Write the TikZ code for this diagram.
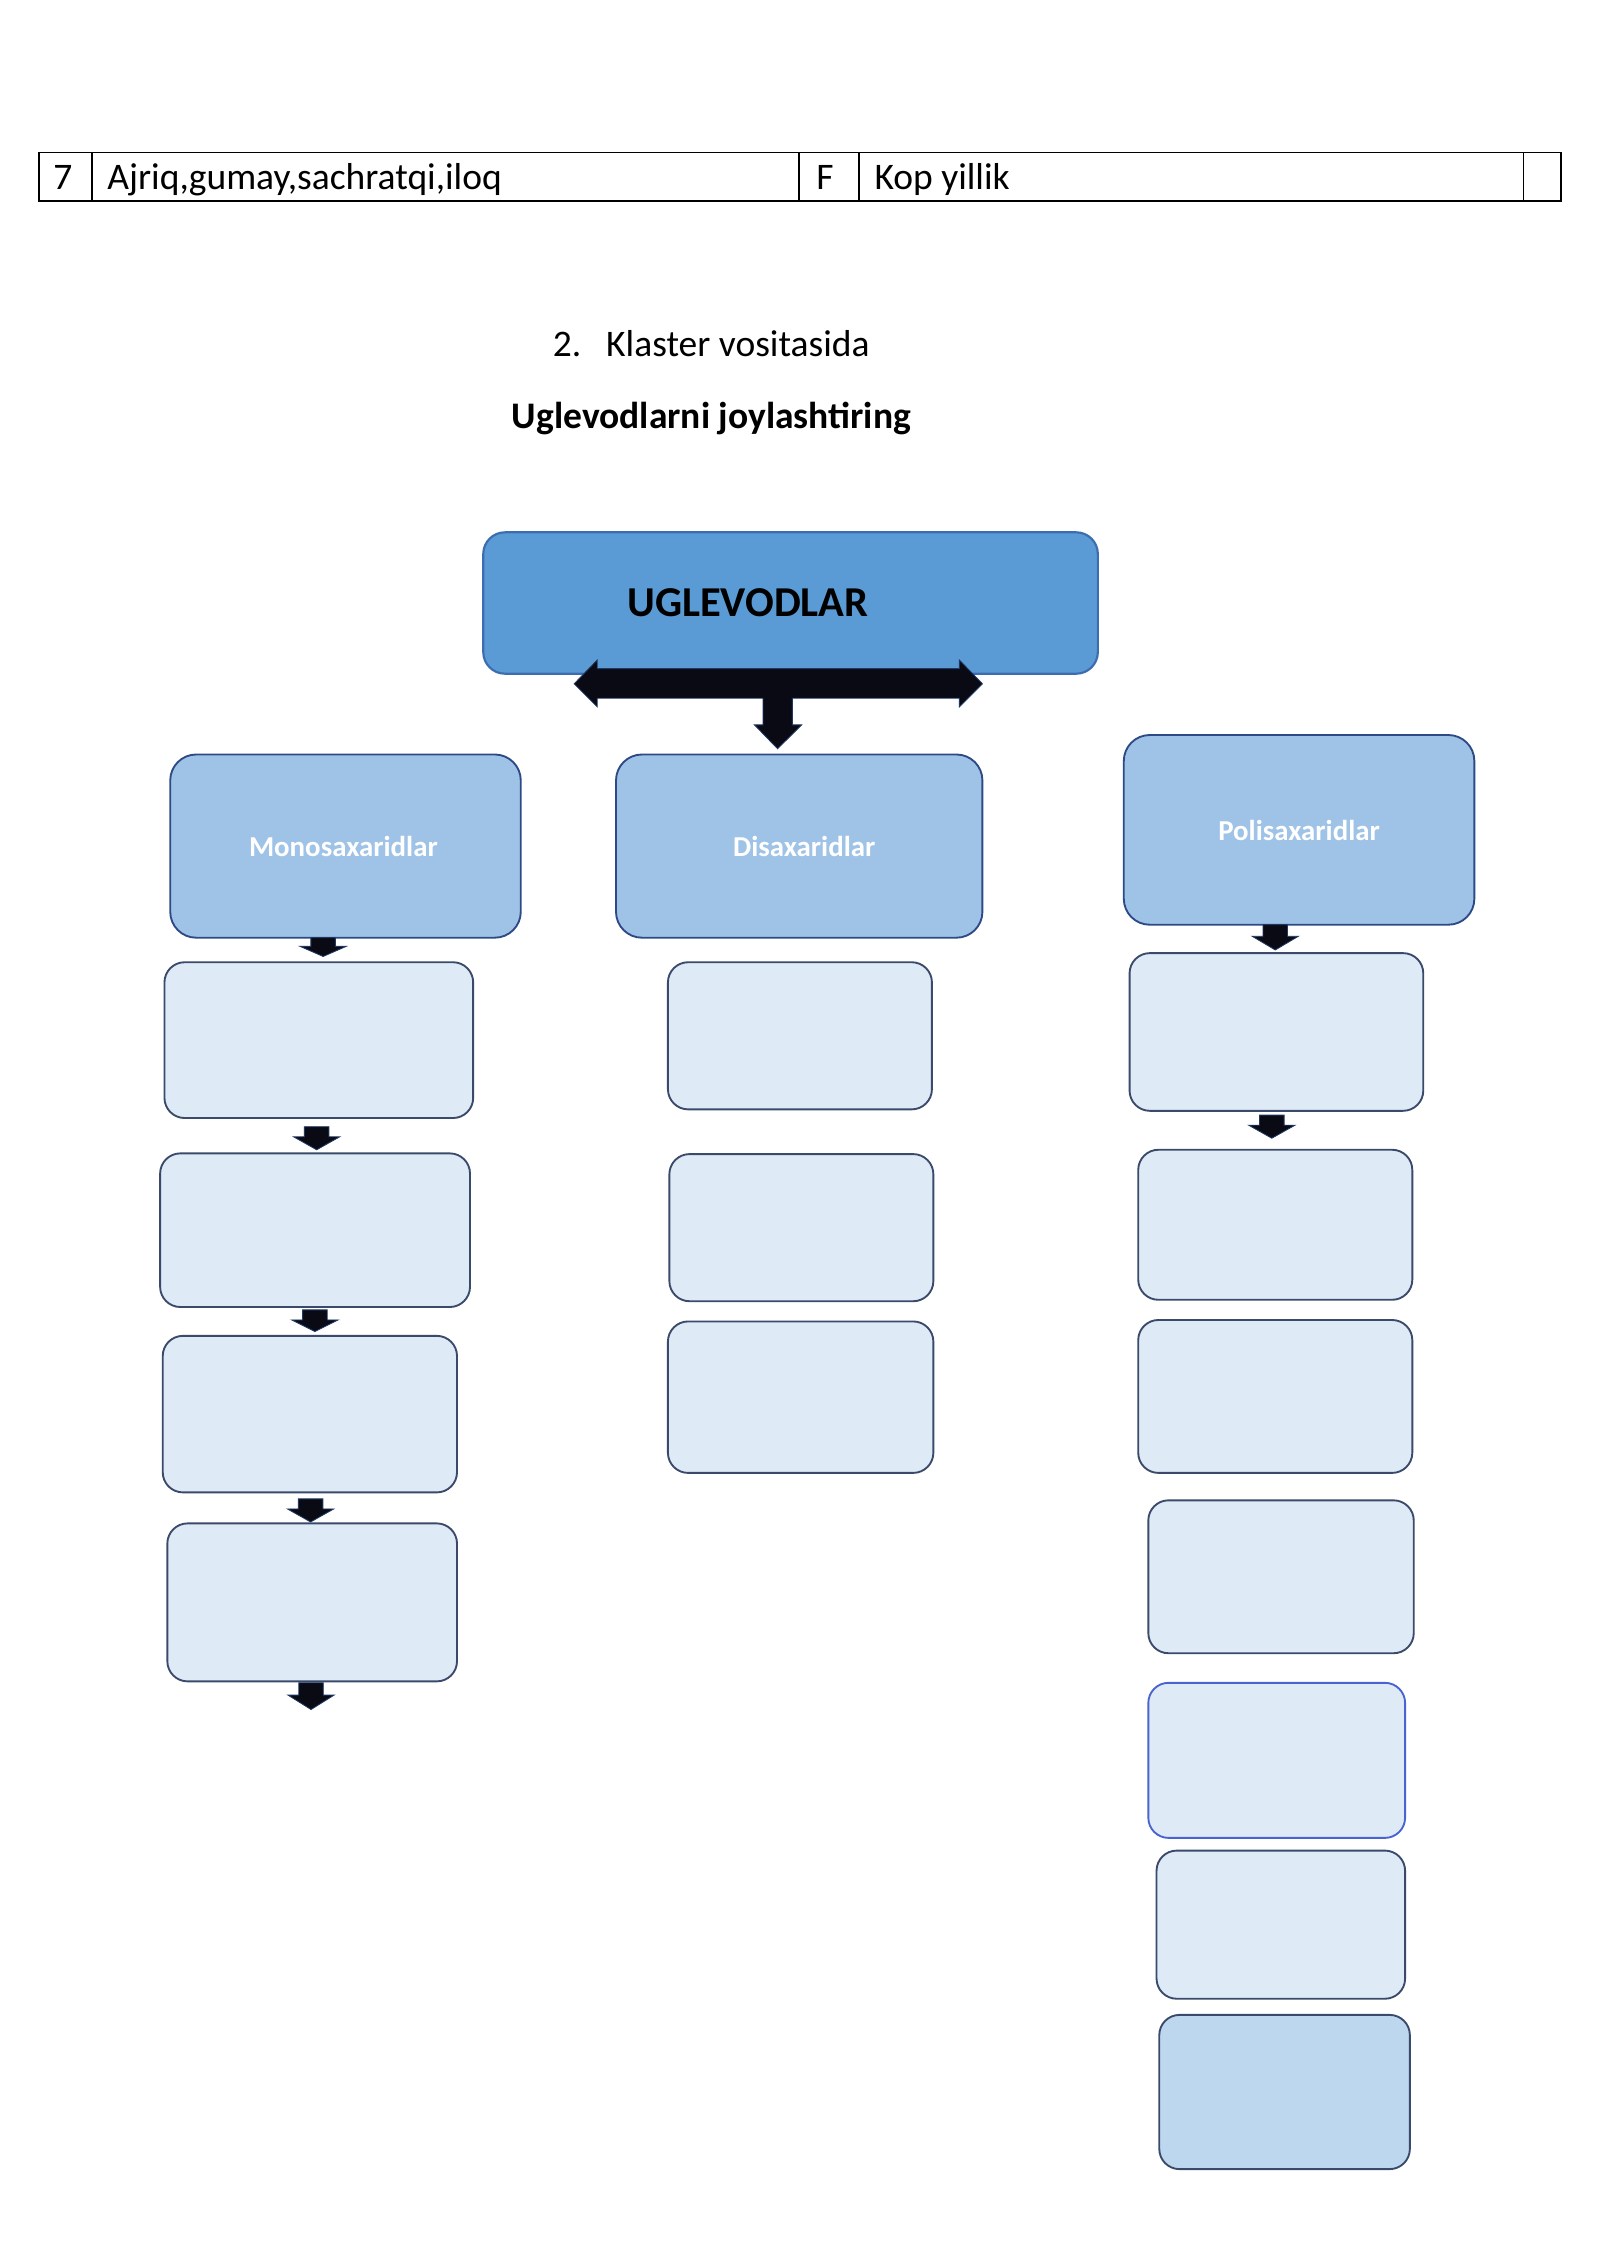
\documentclass[tikz,border=0pt]{standalone}
\usepackage{fontspec}
\setmainfont{Carlito}
\definecolor{mainfill}{HTML}{5B9BD5}
\definecolor{mainborder}{HTML}{3C6DB0}
\definecolor{hdrfill}{HTML}{9FC3E7}
\definecolor{hdrborder}{HTML}{2E4A86}
\definecolor{smallfill}{HTML}{DEEBF7}
\definecolor{smallborder}{HTML}{3B4A6B}
\definecolor{bluishborder}{HTML}{4A63D0}
\definecolor{darkfill}{HTML}{BDD7EE}
\definecolor{arrfill}{HTML}{0A0A14}
\definecolor{arrborder}{HTML}{1F3864}
\tikzset{
  tline/.style={line width=1.2pt, draw=black},
  ttext/.style={inner sep=0pt, anchor=base west, font=\fontsize{26}{30}\selectfont},
  mainbox/.style={draw=mainborder, fill=mainfill, line width=1.5pt, rounded corners=15pt, inner sep=0pt},
  hdrbox/.style={draw=hdrborder, fill=hdrfill, line width=1.3pt, rounded corners=18pt, inner sep=0pt},
  hdrtext/.style={inner sep=0pt, text=white, font=\bfseries\fontsize{20}{24}\selectfont},
  smallbox/.style={draw=smallborder, fill=smallfill, line width=1.3pt, rounded corners=14pt, inner sep=0pt},
  blkarrow/.style={fill=arrfill, draw=arrborder, line width=0.6pt, line join=miter}
}
\newcommand\bx[6]{%
  \pgfmathsetmacro\bxw{#4-#2}\pgfmathsetmacro\bxh{#5-#3}%
  \pgfmathsetmacro\bxcx{(#2+#4)/2}\pgfmathsetmacro\bxcy{(#3+#5)/2}%
  \node[#6, minimum width=\bxw pt, minimum height=\bxh pt] (#1) at (\bxcx,\bxcy) {};}
% \dnarrow{x}{top}{headstart}{tip}
\newcommand\dnarrow[4]{%
  \draw[blkarrow] ({#1-8.5},#2) -- ({#1+8.5},#2) -- ({#1+8.5},#3) -- ({#1+16},#3)
     -- (#1,#4) -- ({#1-16},#3) -- ({#1-8.5},#3) -- cycle;}
\begin{document}
\begin{tikzpicture}[x=1pt,y=-1pt]
\useasboundingbox[fill=white] (0,0) rectangle (1109,1568);
% table row
\draw[tline] (26.9,105.8) rectangle (1082,139.1);
\foreach \xx in {63.6,553.8,595.5,1056}{\draw[tline] (\xx,105.8) -- (\xx,139.1);}
\node[ttext] (c1) at (36.8,131.7) {7};
\node[ttext] (c2) at (74.3,131.7) {Ajriq,gumay,sachratqi,iloq};
\node[ttext] (c3) at (565.7,131.7) {F};
\node[ttext] (c4) at (606,131.7) {Kop yillik};
% titles
\node[ttext] (num) at (383,246.8) {2.};
\node[ttext] (klaster) at (420,246.8) {Klaster vositasida};
\node[ttext, font=\bfseries\fontsize{26}{30}\selectfont] (sub) at (354.7,296.7) {Uglevodlarni joylashtiring};
% main box
\bx{main}{335}{369}{761}{467}{mainbox}
\node[inner sep=0pt, font=\bfseries\fontsize{29.5}{34}\selectfont] (mainT) at (518.5,418) {UGLEVODLAR};
% double arrow
\draw[blkarrow] (398,474) -- (414,457.5) -- (414,463.5) -- (665,463.5) -- (665,457.5) -- (681,474)
  -- (665,490) -- (665,484) -- (549.3,484) -- (549.3,502.5) -- (555.7,502.5) -- (539,519)
  -- (523,502.5) -- (528.9,502.5) -- (528.9,484) -- (414,484) -- (414,490) -- cycle;
% header boxes
\bx{mono}{118}{523}{361}{650}{hdrbox}
\bx{disa}{427}{523}{681}{650}{hdrbox}
\bx{poli}{779}{509.5}{1022}{641}{hdrbox}
\node[hdrtext] (monoT) at (238,587) {Monosaxaridlar};
\node[hdrtext] (disaT) at (557.5,587) {Disaxaridlar};
\node[hdrtext] (poliT) at (900.5,576) {Polisaxaridlar};
% left column
\bx{L1}{114}{667}{328}{775}{smallbox}
\bx{L2}{111}{799.5}{325.8}{906}{smallbox}
\bx{L3}{112.8}{926}{316.8}{1034.5}{smallbox}
\bx{L4}{116}{1056}{316.8}{1165.5}{smallbox}
\dnarrow{224}{650}{656}{663}
\dnarrow{219.5}{781}{788}{797}
\dnarrow{218.3}{908}{915}{923}
\dnarrow{215.3}{1039}{1046}{1055}
\dnarrow{215.6}{1166.5}{1175}{1185}
% middle column
\bx{M1}{463}{667}{646}{769}{smallbox}
\bx{M2}{464}{800}{647}{902}{smallbox}
\bx{M3}{463}{916}{647}{1021}{smallbox}
% right column
\bx{R1}{783}{660.7}{986.6}{770}{smallbox}
\bx{R2}{789}{797}{979}{901}{smallbox}
\bx{R3}{789}{915}{979}{1021}{smallbox}
\bx{R4}{796}{1040}{980}{1146}{smallbox}
\bx{R5}{796}{1166.5}{974}{1274}{smallbox, draw=bluishborder}
\bx{R6}{801.7}{1282.8}{974}{1385.5}{smallbox}
\bx{R7}{803.6}{1396.7}{977.3}{1503.6}{smallbox, fill=darkfill}
\dnarrow{884}{641}{649}{658.5}
\dnarrow{881.6}{773}{780}{789}
\end{tikzpicture}
\end{document}
